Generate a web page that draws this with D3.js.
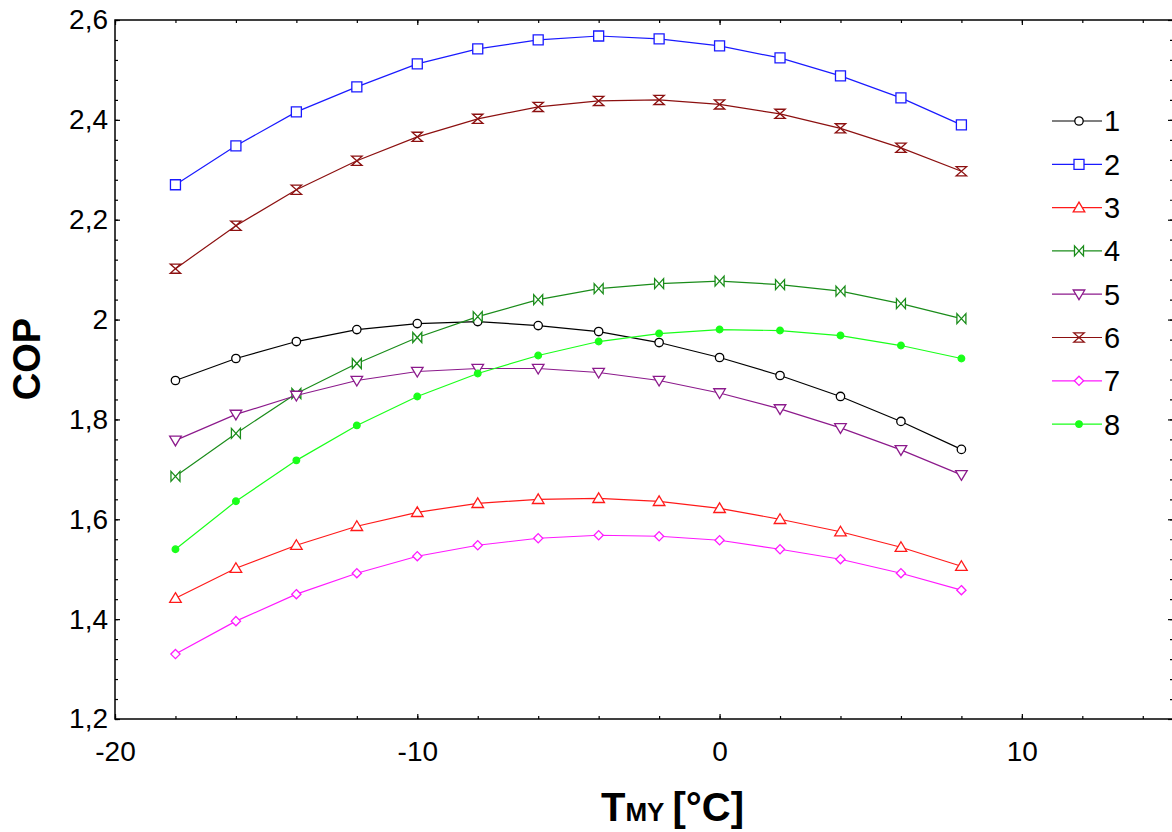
<!DOCTYPE html>
<html>
<head>
<meta charset="utf-8">
<script src="https://cdn.jsdelivr.net/npm/d3@7/dist/d3.min.js"></script>
<style>
  html, body { margin: 0; padding: 0; background: #fff; }
  svg { display: block; font-family: "Liberation Sans", Arial, sans-serif; }
</style>
</head>
<body>
<svg id="chart" width="1172" height="832"></svg>
<script>
// ---- data ----
const temps = [-18, -16, -14, -12, -10, -8, -6, -4, -2, 0, 2, 4, 6, 8];
const seriesNames = ["1", "2", "3", "4", "5", "6", "7", "8"];
const cop1 = [1.878, 1.922, 1.956, 1.980, 1.992, 1.996, 1.988, 1.976, 1.954, 1.924, 1.888, 1.846, 1.796, 1.740];
const cop2 = [2.270, 2.348, 2.416, 2.466, 2.512, 2.542, 2.560, 2.568, 2.562, 2.548, 2.524, 2.488, 2.444, 2.390];
const cop3 = [1.442, 1.502, 1.548, 1.586, 1.614, 1.632, 1.640, 1.642, 1.636, 1.622, 1.600, 1.575, 1.544, 1.506];
const cop4 = [1.686, 1.772, 1.852, 1.912, 1.964, 2.006, 2.040, 2.062, 2.072, 2.077, 2.070, 2.057, 2.032, 2.002];
const cop5 = [1.758, 1.810, 1.848, 1.878, 1.896, 1.902, 1.902, 1.894, 1.878, 1.853, 1.821, 1.783, 1.739, 1.689];
const cop6 = [2.102, 2.188, 2.260, 2.318, 2.366, 2.402, 2.426, 2.438, 2.440, 2.431, 2.412, 2.383, 2.344, 2.297];
const cop7 = [1.330, 1.396, 1.450, 1.492, 1.526, 1.548, 1.562, 1.568, 1.566, 1.558, 1.540, 1.520, 1.492, 1.458];
const cop8 = [1.540, 1.636, 1.718, 1.788, 1.846, 1.892, 1.928, 1.956, 1.972, 1.980, 1.978, 1.968, 1.948, 1.922];
const allSeries = [cop1, cop2, cop3, cop4, cop5, cop6, cop7, cop8];
const seriesColors = ["#000000", "#1a1aff", "#ff1a1a", "#1a8c1a", "#8c1a8c", "#8c1010", "#ff1aff", "#1aff1a"];
const seriesMarkers = ["circle", "square", "triUp", "bowtie", "triDown", "hourglass", "diamond", "dot"];

const xMajorTicks = [-20, -10, 0, 10];
const xMinorTicks = [-20, -18, -16, -14, -12, -10, -8, -6, -4, -2, 0, 2, 4, 6, 8, 10, 12, 14];
const yMajorTicks = [1.2, 1.4, 1.6, 1.8, 2.0, 2.2, 2.4, 2.6];
const yMajorLabels = ["1,2", "1,4", "1,6", "1,8", "2", "2,2", "2,4", "2,6"];
const yMinorTicks = d3.range(0, 36).map(i => +(1.2 + i * 0.04).toFixed(2));

// ---- layout ----
const svg = d3.select("#chart");
const L = 115, R = 1173, T = 20, B = 719;
const x = d3.scaleLinear().domain([-20, 15]).range([L, R]);
const y = d3.scaleLinear().domain([1.2, 2.6]).range([B, T]);

function styleAxis(g) {
  g.select(".domain").remove();
  g.selectAll(".tick line").attr("stroke", "#000").attr("stroke-width", 1.2);
  g.selectAll(".tick text").attr("fill", "#000").style("font-size", "28px")
    .style("font-family", "'Liberation Sans', Arial, sans-serif");
}
// bottom
svg.append("g").attr("transform", `translate(0,${B})`)
  .call(d3.axisBottom(x).tickValues(xMinorTicks).tickSize(-3).tickFormat(""))
  .call(styleAxis);
svg.append("g").attr("transform", `translate(0,${B})`)
  .call(d3.axisBottom(x).tickValues(xMajorTicks).tickSize(-5).tickFormat(d => String(d)))
  .call(styleAxis)
  .call(g => g.selectAll(".tick text").attr("dy", "0.71em").attr("y", 22));
// top
svg.append("g").attr("transform", `translate(0,${T})`)
  .call(d3.axisTop(x).tickValues(xMinorTicks).tickSize(-3).tickFormat(""))
  .call(styleAxis);
svg.append("g").attr("transform", `translate(0,${T})`)
  .call(d3.axisTop(x).tickValues(xMajorTicks).tickSize(-5).tickFormat(""))
  .call(styleAxis);
// left
svg.append("g").attr("transform", `translate(${L},0)`)
  .call(d3.axisLeft(y).tickValues(yMinorTicks).tickSize(-3).tickFormat(""))
  .call(styleAxis);
svg.append("g").attr("transform", `translate(${L},0)`)
  .call(d3.axisLeft(y).tickValues(yMajorTicks).tickSize(-5)
    .tickFormat((d, i) => yMajorLabels[i]))
  .call(styleAxis)
  .call(g => g.selectAll(".tick text").attr("x", -7));
// right
svg.append("g").attr("transform", `translate(${R},0)`)
  .call(d3.axisRight(y).tickValues(yMinorTicks).tickSize(-3).tickFormat(""))
  .call(styleAxis);
svg.append("g").attr("transform", `translate(${R},0)`)
  .call(d3.axisRight(y).tickValues(yMajorTicks).tickSize(-5).tickFormat(""))
  .call(styleAxis);

// frame
svg.append("rect").attr("x", L).attr("y", T).attr("width", R - L).attr("height", B - T)
  .attr("fill", "none").attr("stroke", "#000").attr("stroke-width", 1.5);

// markers
function markerPath(type) {
  switch (type) {
    case "circle": { const r = 4.2; return `M${-r},0A${r},${r} 0 1,0 ${r},0A${r},${r} 0 1,0 ${-r},0Z`; }
    case "dot": { const r = 3.3; return `M${-r},0A${r},${r} 0 1,0 ${r},0A${r},${r} 0 1,0 ${-r},0Z`; }
    case "square": return "M-5,-5H5V5H-5Z";
    case "triUp": return "M0,-5.5L5.8,4.2L-5.8,4.2Z";
    case "triDown": return "M0,5.5L5.8,-4.2L-5.8,-4.2Z";
    case "diamond": return "M0,-4.6L4.6,0L0,4.6L-4.6,0Z";
    case "bowtie": return "M-4.5,-5L4.5,5V-5L-4.5,5Z";
    case "hourglass": return "M-5.2,-4.6H5.2L-5.2,4.6H5.2Z";
  }
}

const line = d3.line().x((d, i) => x(temps[i])).y(d => y(d));
const plot = svg.append("g");
allSeries.forEach((vals, si) => {
  const c = seriesColors[si];
  plot.append("path").datum(vals).attr("d", line)
    .attr("fill", "none").attr("stroke", c).attr("stroke-width", 1.2);
  const filled = seriesMarkers[si] === "dot";
  plot.selectAll(null).data(vals).enter().append("path")
    .attr("transform", (d, i) => `translate(${x(temps[i])},${y(d)})`)
    .attr("d", markerPath(seriesMarkers[si]))
    .attr("fill", filled ? c : "#fff")
    .attr("stroke", c).attr("stroke-width", 1.3).attr("stroke-linejoin", "miter");
});

// legend
const lg = svg.append("g");
seriesNames.forEach((name, i) => {
  const ly = 121 + i * 43.3;
  const c = seriesColors[i];
  lg.append("line").attr("x1", 1052).attr("x2", 1102).attr("y1", ly).attr("y2", ly)
    .attr("stroke", c).attr("stroke-width", 1.2);
  lg.append("path").attr("transform", `translate(1079,${ly})`)
    .attr("d", markerPath(seriesMarkers[i]))
    .attr("fill", seriesMarkers[i] === "dot" ? c : "#fff")
    .attr("stroke", c).attr("stroke-width", 1.3);
  lg.append("text").attr("x", 1104).attr("y", ly).attr("dy", "0.36em")
    .style("font-size", "29px").attr("fill", "#000").text(name);
});

// axis titles
svg.append("text")
  .attr("transform", "translate(40,359) rotate(-90)")
  .attr("text-anchor", "middle")
  .style("font-size", "38px").style("font-weight", "bold").text("COP");

const xt = svg.append("text").attr("x", 601).attr("y", 821)
  .style("font-size", "40px").style("font-weight", "bold");
xt.append("tspan").text("T");
xt.append("tspan").style("font-size", "26px").text("MY");
xt.append("tspan").attr("dx", 8).text("[°C]");
</script>
</body>
</html>
